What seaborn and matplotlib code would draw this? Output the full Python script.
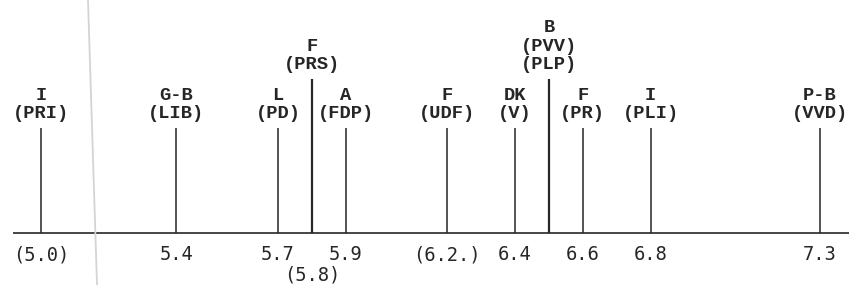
import pandas as pd
import matplotlib.pyplot as plt
from matplotlib.lines import Line2D
import seaborn as sns

# Party positions on the left-right scale
countries = ["I", "G-B", "L", "F", "A", "F", "DK", "B", "F", "I", "P-B"]
parties = ["(PRI)", "(LIB)", "(PD)", "(PRS)", "(FDP)", "(UDF)", "(V)",
           "(PVV)\n(PLP)", "(PR)", "(PLI)", "(VVD)"]
values = [5.0, 5.4, 5.7, 5.8, 5.9, 6.2, 6.4, 6.5, 6.6, 6.8, 7.3]
value_labels = ["(5.0)", "5.4", "5.7", "(5.8)", "5.9", "(6.2.)", "6.4", "",
                "6.6", "6.8", "7.3"]

df = pd.DataFrame({"country": countries, "party": parties,
                   "value": values, "value_label": value_labels})

# layout only: raised labels for crowded spots, lowered value label for 5.8
raised = [False, False, False, True, False, False, False, True, False, False, False]
low_value = [False, False, False, True, False, False, False, False, False, False, False]
df["stem"] = [154 if r else 105 for r in raised]
df["lw"] = [1.6 if r else 1.1 for r in raised]
df["vy"] = [-42 if l else -22 for l in low_value]

sns.set_theme(style="white")
ink = "#262626"

fig = plt.figure(figsize=(8.49, 2.85), dpi=100)
ax = fig.add_axes([0, 0, 1, 1])
ax.set_xlim(df["value"].min() - 0.121, df["value"].max() + 0.086)
ax.set_ylim(-52, 233)
ax.axis("off")

# base line
ax.plot([df["value"].min() - 0.083, ax.get_xlim()[1]], [0, 0], color=ink, lw=1.2,
        solid_capstyle="butt")

for _, r in df.iterrows():
    ax.vlines(r["value"], 0, r["stem"], color=ink, lw=r["lw"])
    ax.text(r["value"], r["stem"] + 6, f"{r['country']}\n{r['party']}",
            ha="center", va="bottom", multialignment="center",
            family="Liberation Mono", fontweight="bold", fontsize=13.5,
            linespacing=1.1, color=ink)
    if r["value_label"]:
        ax.text(r["value"], r["vy"], r["value_label"], ha="center", va="center",
                family="DejaVu Sans Mono", fontsize=13.5, color=ink)

# faint fold mark from the scanned page
fig.add_artist(Line2D([88 / 849, 97 / 849], [1, 0], transform=fig.transFigure,
                      color="#d4d4d4", lw=1.3))

fig.savefig("out.png", dpi=100, facecolor="white")
